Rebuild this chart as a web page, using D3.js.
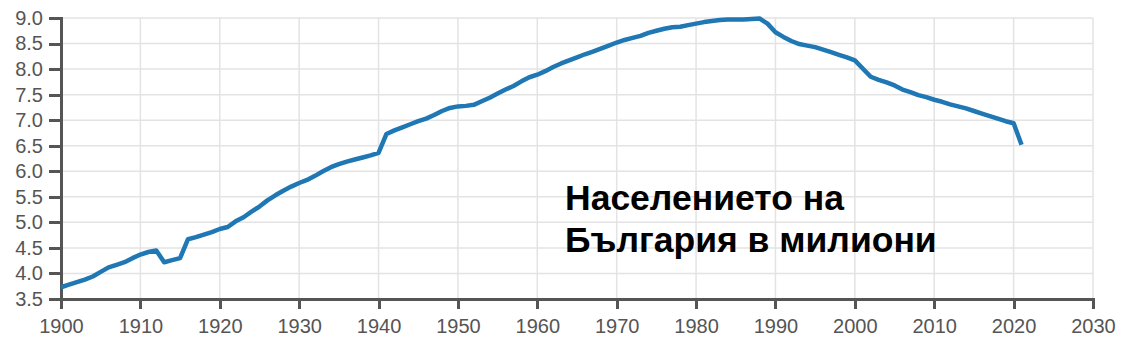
<!DOCTYPE html>
<html>
<head>
<meta charset="utf-8">
<script src="https://cdn.jsdelivr.net/npm/d3@7"></script>
<style>
  body { margin: 0; background: #fff; }
  svg { display: block; font-family: "Liberation Sans", Arial, sans-serif; }
</style>
</head>
<body>
<div id="chart"></div>
<script>
// population of Bulgaria, millions
const years = [
  1900, 1901, 1902, 1903, 1904, 1905, 1906, 1907, 1908, 1909,
  1910, 1911, 1912, 1913, 1914, 1915, 1916, 1917, 1918, 1919,
  1920, 1921, 1922, 1923, 1924, 1925, 1926, 1927, 1928, 1929,
  1930, 1931, 1932, 1933, 1934, 1935, 1936, 1937, 1938, 1939,
  1940, 1941, 1942, 1943, 1944, 1945, 1946, 1947, 1948, 1949,
  1950, 1951, 1952, 1953, 1954, 1955, 1956, 1957, 1958, 1959,
  1960, 1961, 1962, 1963, 1964, 1965, 1966, 1967, 1968, 1969,
  1970, 1971, 1972, 1973, 1974, 1975, 1976, 1977, 1978, 1979,
  1980, 1981, 1982, 1983, 1984, 1985, 1986, 1987, 1988, 1989,
  1990, 1991, 1992, 1993, 1994, 1995, 1996, 1997, 1998, 1999,
  2000, 2002, 2003, 2004, 2005, 2006, 2007, 2008, 2009,
  2010, 2011, 2012, 2013, 2014, 2015, 2016, 2017, 2018, 2019,
  2020, 2021
];
const population = [
  3.73, 3.78, 3.83, 3.88, 3.94, 4.03, 4.12, 4.17, 4.22, 4.30,
  4.37, 4.42, 4.45, 4.22, 4.26, 4.30, 4.67, 4.71, 4.76, 4.81,
  4.87, 4.91, 5.02, 5.10, 5.21, 5.31, 5.43, 5.53, 5.62, 5.70,
  5.77, 5.83, 5.91, 6.00, 6.08, 6.14, 6.19, 6.23, 6.27, 6.31,
  6.36, 6.73, 6.80, 6.86, 6.92, 6.98, 7.03, 7.10, 7.18, 7.24,
  7.27, 7.28, 7.30, 7.37, 7.44, 7.52, 7.60, 7.67, 7.76, 7.84,
  7.89, 7.96, 8.04, 8.11, 8.17, 8.23, 8.29, 8.34, 8.40, 8.46,
  8.52, 8.57, 8.61, 8.65, 8.71, 8.75, 8.79, 8.82, 8.83, 8.86,
  8.89, 8.92, 8.94, 8.96, 8.97, 8.97, 8.97, 8.98, 8.99, 8.89,
  8.72, 8.63, 8.55, 8.49, 8.46, 8.43, 8.38, 8.33, 8.28, 8.23,
  8.17, 7.85, 7.79, 7.74, 7.68, 7.60, 7.55, 7.49, 7.45,
  7.40, 7.36, 7.31, 7.27, 7.23, 7.18, 7.13, 7.08, 7.03, 6.98,
  6.94, 6.52
];
const xTicks = d3.range(1900, 2031, 10);
const yTicks = d3.range(3.5, 9.01, 0.5);
const titleLines = ["Населението на", "България в милиони"];

const width = 1127, height = 345;
const margin = ({top: 18, right: 34, bottom: 46, left: 61});

const data = years.map((y, i) => [y, population[i]]);

const x = d3.scaleLinear()
  .domain([1900, 2030])
  .range([margin.left, width - margin.right]);

const y = d3.scaleLinear()
  .domain([3.5, 9])
  .range([height - margin.bottom, margin.top]);

const svg = d3.select('#chart').append('svg')
  .attr('width', width)
  .attr('height', height);

// grid
svg.append('g')
  .attr('stroke', '#e3e3e3')
  .attr('stroke-width', 1.5)
  .call(g => g.selectAll('.v').data(xTicks).join('line')
    .attr('x1', d => x(d)).attr('x2', d => x(d))
    .attr('y1', y(9)).attr('y2', y(3.5)))
  .call(g => g.selectAll('.h').data(yTicks).join('line')
    .attr('x1', x(1900)).attr('x2', x(2030))
    .attr('y1', d => y(d)).attr('y2', d => y(d)));

// axes
const xAxis = d3.axisBottom(x)
  .tickValues(xTicks)
  .tickFormat(d3.format('d'))
  .tickSize(10)
  .tickPadding(10);

const yAxis = d3.axisLeft(y)
  .tickValues(yTicks)
  .tickFormat(d3.format('.1f'))
  .tickSize(12)
  .tickPadding(6);

svg.append('g')
  .attr('transform', `translate(0,${y(3.5)})`)
  .call(xAxis)
  .call(g => g.selectAll('path, line').attr('stroke', '#555').attr('stroke-width', 3))
  .call(g => g.selectAll('text').attr('fill', '#555').attr('font-size', 20));

svg.append('g')
  .attr('transform', `translate(${x(1900)},0)`)
  .call(yAxis)
  .call(g => g.selectAll('path, line').attr('stroke', '#555').attr('stroke-width', 3))
  .call(g => g.selectAll('text').attr('fill', '#555').attr('font-size', 20));

svg.selectAll('.domain, .tick line').attr('shape-rendering', 'crispEdges');

// line
const line = d3.line()
  .x(d => x(d[0]))
  .y(d => y(d[1]));

svg.append('path')
  .attr('fill', 'none')
  .attr('stroke', '#1f77b4')
  .attr('stroke-width', 4.5)
  .attr('stroke-linejoin', 'round')
  .attr('d', line(data));

// title
svg.append('text')
  .attr('x', 565)
  .attr('y', 210)
  .attr('font-size', 35.5)
  .attr('font-weight', 'bold')
  .attr('fill', '#000')
  .selectAll('tspan')
  .data(titleLines)
  .join('tspan')
    .attr('x', 565)
    .attr('dy', (d, i) => i ? 42 : 0)
    .text(d => d);
</script>
</body>
</html>
